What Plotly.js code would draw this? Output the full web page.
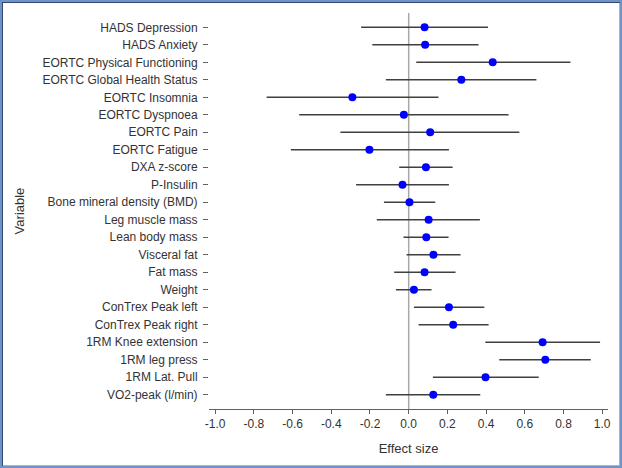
<!DOCTYPE html>
<html>
<head>
<meta charset="utf-8">
<script src="https://cdn.plot.ly/plotly-3.0.1.min.js"></script>
<style>
  html, body { margin: 0; padding: 0; background: #fff; }
  #wrap { position: relative; width: 622px; height: 468px; }
  #chart { position: absolute; left: 0; top: 0; width: 622px; height: 468px; }
  #frame { position: absolute; left: 0; top: 0; width: 622px; height: 468px; box-sizing: border-box;
           border: 2px solid #6d94c8; box-shadow: inset 1px 1px 0 #34466a, inset -1px -1px 0 #9fb8dc;
           pointer-events: none; }
</style>
</head>
<body>
<div id="wrap">
  <div id="chart"></div>
  <div id="frame"></div>
</div>
<script>
const variables = [
  "HADS Depression", "HADS Anxiety", "EORTC Physical Functioning", "EORTC Global Health Status",
  "EORTC Insomnia", "EORTC Dyspnoea", "EORTC Pain", "EORTC Fatigue", "DXA z-score", "P-Insulin",
  "Bone mineral density (BMD)", "Leg muscle mass", "Lean body mass", "Visceral fat", "Fat mass",
  "Weight", "ConTrex Peak left", "ConTrex Peak right", "1RM Knee extension", "1RM leg press",
  "1RM Lat. Pull", "VO2-peak (l/min)"
];
const effect = [0.082, 0.085, 0.434, 0.272, -0.291, -0.025, 0.111, -0.203, 0.089, -0.032,
                0.004, 0.103, 0.091, 0.128, 0.082, 0.027, 0.208, 0.230, 0.692, 0.706, 0.397, 0.127];
const lower  = [-0.246, -0.188, 0.039, -0.118, -0.734, -0.566, -0.353, -0.609, -0.049, -0.272,
                -0.128, -0.165, -0.027, -0.011, -0.075, -0.066, 0.027, 0.051, 0.396, 0.468, 0.125, -0.118];
const upper  = [0.410, 0.361, 0.836, 0.660, 0.154, 0.516, 0.572, 0.208, 0.227, 0.208,
                0.137, 0.368, 0.206, 0.268, 0.242, 0.118, 0.391, 0.413, 0.989, 0.941, 0.672, 0.370];
const xTickVals = [-1.0, -0.8, -0.6, -0.4, -0.2, 0.0, 0.2, 0.4, 0.6, 0.8, 1.0];
const xTickText = ["-1.0", "-0.8", "-0.6", "-0.4", "-0.2", "0.0", "0.2", "0.4", "0.6", "0.8", "1.0"];

const plus = upper.map((u, i) => u - effect[i]);
const minus = effect.map((e, i) => e - lower[i]);

const trace = {
  type: 'scatter',
  mode: 'markers',
  x: effect,
  y: variables,
  marker: { color: '#0000ff', size: 8 },
  error_x: {
    type: 'data', symmetric: false, array: plus, arrayminus: minus,
    color: '#404040', thickness: 1.5, width: 0
  },
  hoverinfo: 'x+y'
};

const font = { family: '"Liberation Sans", Arial, sans-serif', size: 12, color: '#333333' };
const titleFont = { family: '"Liberation Sans", Arial, sans-serif', size: 13, color: '#333333' };

const layout = {
  width: 622, height: 468,
  margin: { l: 209, r: 14, t: 13, b: 59, pad: 0 },
  paper_bgcolor: '#ffffff', plot_bgcolor: '#ffffff',
  font: font,
  showlegend: false,
  xaxis: {
    range: [-1.032, 1.030],
    tickmode: 'array', tickvals: xTickVals, ticktext: xTickText,
    showgrid: false, zeroline: false,
    showline: true, linecolor: '#606060', linewidth: 1,
    ticks: 'outside', ticklen: 4, tickcolor: '#606060',
    tickfont: font,
    title: { text: 'Effect size', font: titleFont, standoff: 13 }
  },
  yaxis: {
    type: 'category',
    categoryorder: 'array', categoryarray: variables,
    range: [variables.length - 1 + 0.82, -0.82],
    showgrid: false, zeroline: false, showline: false,
    ticks: 'outside', ticklen: 5, tickcolor: '#606060',
    ticklabelstandoff: 3,
    tickfont: font,
    title: { text: 'Variable', font: titleFont, standoff: 14 }
  },
  shapes: [{
    type: 'line', xref: 'x', yref: 'paper', x0: 0, x1: 0, y0: 0, y1: 1,
    line: { color: '#a8a8a8', width: 1.5 }, layer: 'below'
  }]
};

Plotly.newPlot('chart', [trace], layout, { displayModeBar: false, staticPlot: true });
</script>
</body>
</html>
